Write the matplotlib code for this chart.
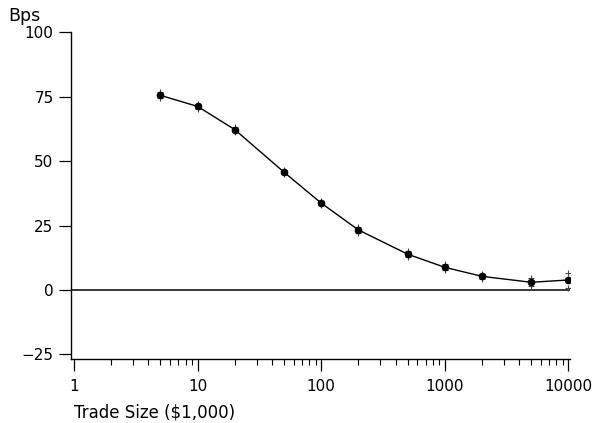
import matplotlib.pyplot as plt
import numpy as np

# trade size in $1,000 and cost in basis points
trade_size = [5, 10, 20, 50, 100, 200, 500, 1000, 2000, 5000, 10000]
bps = [75.5, 71.2, 62.2, 45.7, 33.7, 23.3, 13.9, 8.8, 5.3, 3.0, 3.9]
bps_hi = [76.8, 72.3, 63.2, 46.7, 34.7, 24.3, 15.0, 9.9, 6.4, 4.6, 6.6]
bps_lo = [74.3, 70.2, 61.2, 44.8, 32.8, 22.3, 12.8, 7.8, 4.3, 1.4, 0.8]

yticks = [-25, 0, 25, 50, 75, 100]
xticks = [1, 10, 100, 1000, 10000]

plt.rcParams['font.family'] = 'DejaVu Sans'
fig = plt.figure(figsize=(5.96, 4.23), dpi=100)
ax = fig.add_axes([0.119, 0.151, 0.837, 0.773])

ax.axhline(0, color='black', lw=1.1, zorder=1)
ax.plot(trade_size, bps, color='black', lw=1.0, marker='o', ms=4.5, zorder=3)
ax.plot(trade_size, bps_hi, ls='none', marker='+', color='#444444', ms=5, mew=0.8)
ax.plot(trade_size, bps_lo, ls='none', marker='+', color='#444444', ms=5, mew=0.8)

ax.set_xscale('log')
ax.set_xlim(0.945, 10250)
ax.set_ylim(-26.8, 100)
ax.set_xticks(xticks)
ax.set_xticklabels([str(t) for t in xticks])
ax.set_yticks(yticks)
ax.set_yticklabels(['\u221225', '0', '25', '50', '75', '100'])

for s in ['top', 'right']:
    ax.spines[s].set_visible(False)
for s in ['left', 'bottom']:
    ax.spines[s].set_linewidth(1.0)

ax.tick_params(axis='both', which='major', direction='out', length=8.5, width=0.9,
               labelsize=11, pad=4, colors='black')
ax.tick_params(axis='x', which='minor', direction='out', length=4.5, width=0.8)
ax.tick_params(axis='x', which='major', pad=6)

fig.text(0.014, 0.962, 'Bps', fontsize=12.5, va='center')
fig.text(0.124, 0.024, 'Trade Size ($1,000)', fontsize=12, va='center')

fig.savefig('out.png', dpi=100)
